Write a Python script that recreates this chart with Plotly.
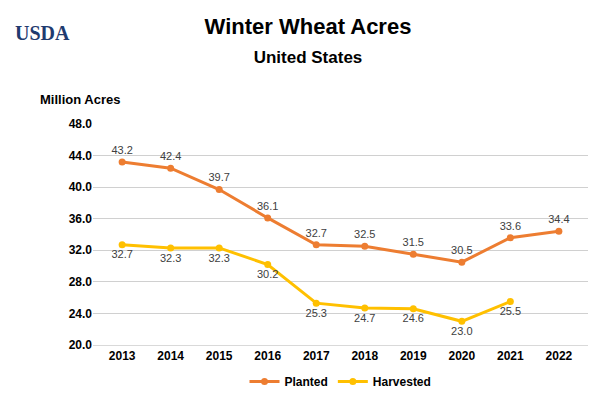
import plotly.graph_objects as go

years = ["2013", "2014", "2015", "2016", "2017", "2018", "2019", "2020", "2021", "2022"]
planted = [43.2, 42.4, 39.7, 36.1, 32.7, 32.5, 31.5, 30.5, 33.6, 34.4]
harvested = [32.7, 32.3, 32.3, 30.2, 25.3, 24.7, 24.6, 23.0, 25.5, None]
y_ticks = [20, 24, 28, 32, 36, 40, 44, 48]

fig = go.Figure()
fig.add_trace(go.Scatter(
    x=years, y=planted, name="Planted", mode="lines+markers+text",
    line=dict(color="#ED7D31", width=3), marker=dict(size=7),
    text=[f"{v:.1f}" for v in planted], textposition="top center",
    textfont=dict(size=11, color="#404040"),
))
fig.add_trace(go.Scatter(
    x=years, y=harvested, name="Harvested", mode="lines+markers+text",
    line=dict(color="#FFC000", width=3), marker=dict(size=7),
    text=[f"{v:.1f}" if v is not None else "" for v in harvested],
    textposition="bottom center",
    textfont=dict(size=11, color="#404040"),
))

fig.update_layout(
    width=600, height=400,
    margin=dict(l=85, r=20, t=116, b=40),
    paper_bgcolor="white", plot_bgcolor="white",
    font=dict(family="Liberation Sans, Arial", color="#000"),
    title=dict(
        text="<b>Winter Wheat Acres</b><br><span style='font-size:17px'><b>United States</b></span>",
        x=0.5, y=0.935, xanchor="center", yanchor="top", font=dict(size=22),
    ),
    xaxis=dict(showgrid=False, showline=True, linecolor="#d9d9d9",
               tickfont=dict(size=12, color="#000", weight="bold"), ticks=""),
    yaxis=dict(range=[20, 48], tickvals=y_ticks, tickformat=".1f",
               gridcolor="#d0d0d0", zeroline=False,
               tickfont=dict(size=12, color="#000", weight="bold")),
    legend=dict(orientation="h", x=0.5, xanchor="center", y=-0.1,
                yanchor="top", font=dict(size=12, weight="bold")),
    annotations=[
        dict(text="<b>Million Acres</b>", x=(30 - 85) / 495, y=1.11, xref="paper", yref="paper",
             showarrow=False, xanchor="left", yanchor="middle", font=dict(size=13)),
        dict(text="<b>USDA</b>", x=(5 - 85) / 495, y=1.47, xref="paper", yref="paper",
             showarrow=False, xanchor="left", yanchor="top",
             font=dict(size=20, color="#1f3b6f", family="Liberation Serif")),
    ],
)

fig.write_html("out.html")
